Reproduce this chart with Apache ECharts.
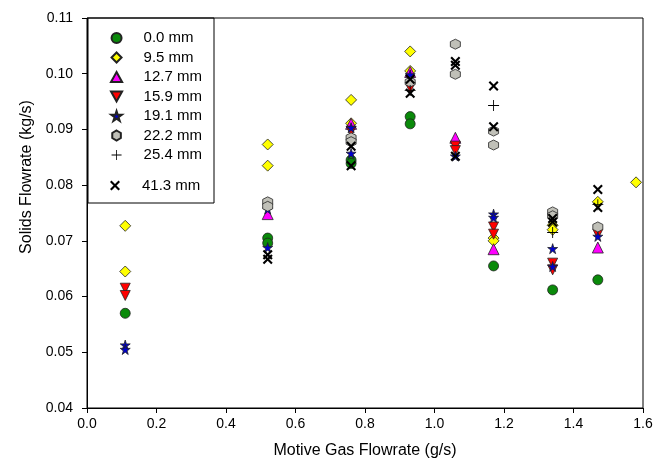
<!DOCTYPE html>
<html><head><meta charset="utf-8">
<script src="https://cdn.jsdelivr.net/npm/echarts@6/dist/echarts.min.js"></script>
<style>html,body{margin:0;padding:0;background:#fff}#c{width:656px;height:460px}</style>
</head><body><div id="c"></div>
<script>
const seriesNames = ['0.0 mm','9.5 mm','12.7 mm','15.9 mm','19.1 mm','22.2 mm','25.4 mm','41.3 mm'];
const xTicks = [0.0,0.2,0.4,0.6,0.8,1.0,1.2,1.4,1.6];
const yTicks = [0.04,0.05,0.06,0.07,0.08,0.09,0.10,0.11];
const xTitle = 'Motive Gas Flowrate (g/s)';
const yTitle = 'Solids Flowrate (kg/s)';

const s00 = [[0.11,0.0570],[0.52,0.0705],[0.52,0.0696],[0.76,0.0845],[0.76,0.0839],[0.93,0.0923],[0.93,0.0910],[1.17,0.0655],[1.34,0.0612],[1.47,0.0630]];
const s95 = [[0.11,0.0727],[0.11,0.0645],[0.52,0.0873],[0.52,0.0835],[0.76,0.0953],[0.76,0.0911],[0.93,0.1040],[0.93,0.1005],[1.17,0.0705],[1.17,0.0700],[1.34,0.0728],[1.34,0.0720],[1.47,0.0770],[1.58,0.0805]];
const s127 = [[0.52,0.0748],[0.76,0.0910],[0.93,0.1003],[1.06,0.0885],[1.17,0.0685],[1.47,0.0688]];
const s159 = [[0.11,0.0615],[0.11,0.0602],[0.76,0.0897],[0.93,0.0975],[1.06,0.0870],[1.06,0.0862],[1.17,0.0725],[1.17,0.0712],[1.34,0.0660],[1.34,0.0648],[1.47,0.0712]];
const s191 = [[0.11,0.0513],[0.11,0.0505],[0.52,0.0757],[0.52,0.0688],[0.76,0.0903],[0.76,0.0857],[0.93,0.0998],[1.06,0.0852],[1.17,0.0748],[1.17,0.0742],[1.34,0.0686],[1.34,0.0654],[1.47,0.0708]];
const s222 = [[0.52,0.0770],[0.52,0.0762],[0.76,0.0885],[0.76,0.0878],[0.93,0.0985],[1.06,0.1053],[1.06,0.0999],[1.17,0.0897],[1.17,0.0872],[1.34,0.0752],[1.34,0.0745],[1.47,0.0725]];
const s254 = [[0.93,0.0970],[1.17,0.0943],[1.34,0.0715],[1.47,0.0765]];
const s413 = [[0.52,0.0675],[0.52,0.0667],[0.76,0.0870],[0.76,0.0835],[0.93,0.0990],[0.93,0.0965],[1.06,0.1022],[1.06,0.1015],[1.06,0.0852],[1.17,0.0978],[1.17,0.0905],[1.34,0.0740],[1.34,0.0734],[1.47,0.0792],[1.47,0.0760]];
const allData = [s00,s95,s127,s159,s191,s222,s254,s413];

const colors = ['#0a8a0a','#ffff00','#ff00ff','#ff0000','#0000cc','#c0c0b8','#000000','#000000'];
const symbols = [
  'circle',
  'path://M50,0 L100,50 L50,100 L0,50 Z',
  'path://M50,0 L100,90 L0,90 Z',
  'path://M0,0 L100,0 L50,90 Z',
  'path://M50,0 L61,35 L98,35 L68,57 L79,91 L50,70 L21,91 L32,57 L2,35 L39,35 Z',
  'path://M50,0 L93,25 L93,75 L50,100 L7,75 L7,25 Z',
  'path://M46,0 L54,0 L54,46 L100,46 L100,54 L54,54 L54,100 L46,100 L46,54 L0,54 L0,46 L46,46 Z',
  'path://M0,15 L15,0 L50,35 L85,0 L100,15 L65,50 L100,85 L85,100 L50,65 L15,100 L0,85 L35,50 Z'
];
const sizes = [10,11,11,10,10,10,11,10];
const borders = [0.8,0.8,0.8,0.8,0.8,0.8,0,0];

const font = 'Liberation Sans, Arial, sans-serif';
const series = seriesNames.map((n,i)=>({
  name:n, type:'scatter', data:allData[i], symbol:symbols[i], symbolSize:sizes[i],
  itemStyle:{color:colors[i], borderColor:'#222', borderWidth:borders[i], opacity:1},
  z: 2+i
}));

const legendCommon = {orient:'vertical',left:105,itemWidth:44,itemHeight:10,itemGap:4.5,
  textStyle:{fontFamily:font,fontSize:15,lineHeight:15,color:'#000'},selectedMode:false};

const chart = echarts.init(document.getElementById('c'));
chart.setOption({
  animation:false,
  backgroundColor:'#fff',
  grid:{left:87,right:13,top:18,bottom:52,containLabel:false,outerBoundsMode:'none',show:true,borderColor:'#000',borderWidth:1},
  xAxis:{type:'value',min:xTicks[0],max:xTicks[xTicks.length-1],interval:0.2,
    name:xTitle,nameLocation:'middle',nameGap:35,
    nameTextStyle:{fontFamily:font,fontSize:16,color:'#000'},
    axisLine:{onZero:false,lineStyle:{color:'#000'}},
    axisTick:{show:true,inside:false,length:5,lineStyle:{color:'#000'}},
    axisLabel:{fontFamily:font,fontSize:14,color:'#000',margin:9,formatter:v=>v.toFixed(1)},
    splitLine:{show:false}},
  yAxis:{type:'value',min:yTicks[0],max:yTicks[yTicks.length-1],interval:0.01,
    axisLine:{onZero:false,lineStyle:{color:'#000'}},
    axisTick:{show:true,inside:false,length:5,lineStyle:{color:'#000'}},
    axisLabel:{fontFamily:font,fontSize:14,color:'#000',margin:14,formatter:v=>v.toFixed(2)},
    splitLine:{show:false}},
  legend:[
    Object.assign({data:seriesNames.slice(0,7),top:25.5},legendCommon),
    Object.assign({data:seriesNames.slice(7),top:173},legendCommon)
  ],
  graphic:[
    {type:'rect',shape:{x:88,y:18,width:126,height:185},style:{fill:'none',stroke:'#000',lineWidth:1},z:1},
    {type:'text',x:27,y:177,rotation:Math.PI/2,style:{text:yTitle,font:'16px '+font,fill:'#000',textAlign:'center',textVerticalAlign:'middle'}}
  ],
  series:series
});
</script></body></html>
